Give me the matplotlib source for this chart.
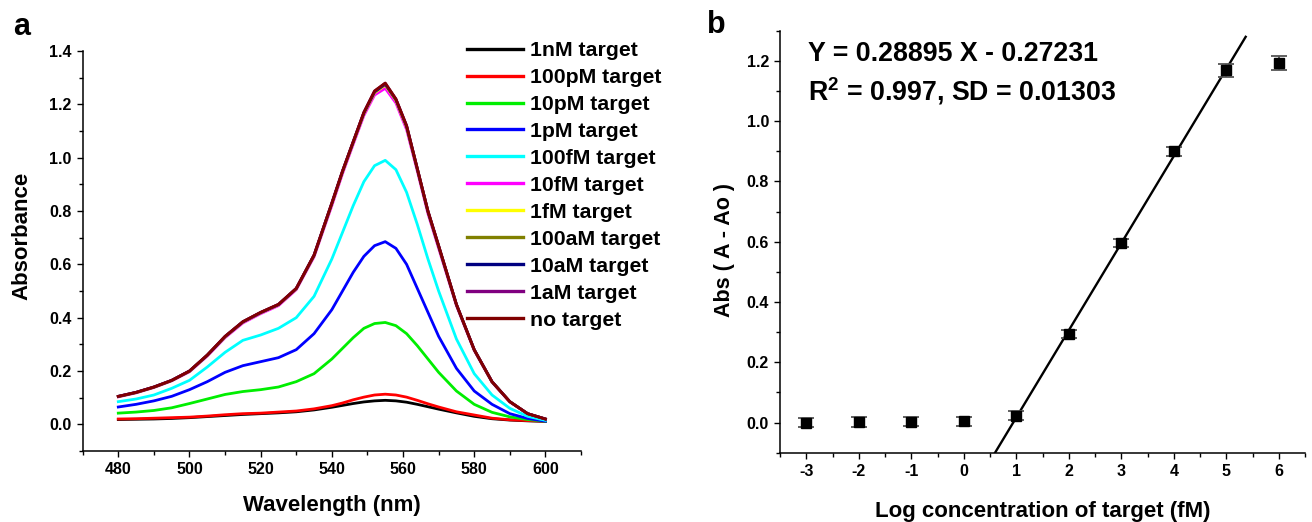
import numpy as np
import matplotlib
matplotlib.use('Agg')
import matplotlib.pyplot as plt
from matplotlib.ticker import MultipleLocator

plt.rcParams['font.family'] = ['Liberation Sans', 'DejaVu Sans']
plt.rcParams['font.weight'] = 'bold'
plt.rcParams['axes.labelweight'] = 'bold'
plt.rcParams['axes.unicode_minus'] = False
plt.rcParams['mathtext.fontset'] = 'custom'
plt.rcParams['mathtext.rm'] = 'Liberation Sans:bold'
plt.rcParams['mathtext.bf'] = 'Liberation Sans:bold'

# ---- panel a: absorbance spectra ----
wavelength = [480, 485, 490, 495, 500, 505, 510, 515, 520, 525, 530, 535, 540, 543, 546,
              549, 552, 555, 558, 561, 564, 567, 570, 575, 580, 585, 590, 595, 600]

abs_1nM = [0.018, 0.019, 0.020, 0.022, 0.025, 0.029, 0.033, 0.037, 0.040, 0.043, 0.047, 0.054, 0.064, 0.071, 0.078,
           0.084, 0.088, 0.090, 0.088, 0.083, 0.075, 0.066, 0.057, 0.043, 0.030, 0.021, 0.016, 0.013, 0.011]
abs_100pM = [0.020, 0.021, 0.023, 0.025, 0.027, 0.031, 0.036, 0.040, 0.042, 0.046, 0.050, 0.058, 0.070, 0.080, 0.092,
             0.102, 0.110, 0.113, 0.110, 0.102, 0.090, 0.077, 0.065, 0.047, 0.035, 0.023, 0.017, 0.014, 0.012]
abs_10pM = [0.042, 0.046, 0.052, 0.062, 0.078, 0.095, 0.112, 0.123, 0.130, 0.140, 0.160, 0.190, 0.245, 0.285, 0.325,
            0.360, 0.378, 0.382, 0.370, 0.340, 0.295, 0.245, 0.195, 0.125, 0.075, 0.045, 0.028, 0.018, 0.012]
abs_1pM = [0.065, 0.075, 0.088, 0.105, 0.130, 0.160, 0.195, 0.220, 0.235, 0.250, 0.280, 0.340, 0.430, 0.500, 0.570,
           0.630, 0.670, 0.685, 0.660, 0.600, 0.510, 0.420, 0.330, 0.210, 0.125, 0.075, 0.040, 0.022, 0.012]
abs_100fM = [0.085, 0.095, 0.110, 0.135, 0.165, 0.215, 0.270, 0.315, 0.335, 0.360, 0.400, 0.480, 0.620, 0.720, 0.820,
             0.910, 0.970, 0.990, 0.955, 0.870, 0.750, 0.620, 0.500, 0.320, 0.190, 0.110, 0.060, 0.030, 0.015]
abs_10fM = [0.103, 0.118, 0.138, 0.163, 0.197, 0.256, 0.325, 0.380, 0.415, 0.445, 0.505, 0.628, 0.820, 0.940, 1.050,
            1.158, 1.235, 1.260, 1.205, 1.105, 0.950, 0.790, 0.660, 0.445, 0.277, 0.158, 0.084, 0.040, 0.020]
abs_1fM = [0.104, 0.119, 0.139, 0.164, 0.199, 0.258, 0.328, 0.383, 0.418, 0.448, 0.508, 0.632, 0.826, 0.946, 1.056,
           1.165, 1.243, 1.272, 1.214, 1.114, 0.956, 0.796, 0.666, 0.448, 0.279, 0.159, 0.085, 0.040, 0.020]
abs_100aM = [0.104, 0.119, 0.139, 0.164, 0.199, 0.259, 0.329, 0.384, 0.419, 0.449, 0.509, 0.633, 0.828, 0.948, 1.058,
             1.167, 1.246, 1.275, 1.217, 1.116, 0.958, 0.798, 0.668, 0.449, 0.279, 0.159, 0.085, 0.040, 0.020]
abs_10aM = [0.105, 0.120, 0.140, 0.165, 0.200, 0.259, 0.329, 0.384, 0.419, 0.449, 0.509, 0.634, 0.829, 0.949, 1.059,
            1.168, 1.247, 1.276, 1.218, 1.118, 0.958, 0.798, 0.668, 0.449, 0.280, 0.160, 0.085, 0.040, 0.020]
abs_1aM = [0.105, 0.120, 0.140, 0.165, 0.200, 0.260, 0.330, 0.385, 0.420, 0.450, 0.510, 0.635, 0.830, 0.950, 1.060,
           1.170, 1.250, 1.279, 1.220, 1.120, 0.960, 0.800, 0.670, 0.450, 0.280, 0.160, 0.085, 0.040, 0.020]
abs_none = [0.105, 0.120, 0.140, 0.165, 0.200, 0.260, 0.330, 0.385, 0.420, 0.450, 0.510, 0.635, 0.830, 0.950, 1.060,
            1.170, 1.250, 1.280, 1.220, 1.120, 0.960, 0.800, 0.670, 0.450, 0.280, 0.160, 0.085, 0.040, 0.020]

spectra = [abs_1nM, abs_100pM, abs_10pM, abs_1pM, abs_100fM, abs_10fM,
           abs_1fM, abs_100aM, abs_10aM, abs_1aM, abs_none]
labels = ['1nM target', '100pM target', '10pM target', '1pM target', '100fM target', '10fM target',
          '1fM target', '100aM target', '10aM target', '1aM target', 'no target']
colors = ['#000000', '#ff0000', '#00ee00', '#0000ff', '#00ffff', '#ff00ff',
          '#ffff00', '#808000', '#000080', '#800080', '#800000']

# ---- panel b: calibration ----
log_conc = [-3, -2, -1, 0, 1, 2, 3, 4, 5, 6]
delta_abs = [0.000, 0.001, 0.003, 0.004, 0.023, 0.294, 0.595, 0.900, 1.168, 1.192]
delta_err = [0.016, 0.016, 0.014, 0.014, 0.015, 0.014, 0.014, 0.015, 0.021, 0.024]
slope = 0.28895
intercept = -0.27231

fig = plt.figure(figsize=(13.12, 5.22), dpi=100)
W, H = 1312, 522

def axes_px(x0, x1, y0, y1):
    return fig.add_axes([x0 / W, 1 - y1 / H, (x1 - x0) / W, (y1 - y0) / H])

ax1 = axes_px(82.7, 581, 51, 451)
ax2 = axes_px(780, 1305, 30.6, 452.7)

for ax in (ax1, ax2):
    ax.spines['top'].set_visible(False)
    ax.spines['right'].set_visible(False)
    for s in ('left', 'bottom'):
        ax.spines[s].set_linewidth(1.1)
    ax.tick_params(which='both', direction='out', width=1.0, labelsize=11.5)
    ax.tick_params(which='major', length=4.5)
    ax.tick_params(which='minor', length=2.8)

for y, c, lab in zip(spectra, colors, labels):
    ax1.plot(wavelength, y, color=c, lw=2.0, label=lab)

ax1.set_xlim(470, 610)
ax1.set_ylim(-0.1, 1.4)
ax1.xaxis.set_minor_locator(MultipleLocator(10))
ax1.yaxis.set_minor_locator(MultipleLocator(0.1))
ax1.set_xticks(range(480, 601, 20))
ax1.set_yticks(np.arange(0, 1.41, 0.2))
ax1.set_xlabel('Wavelength (nm)', fontsize=16)
ax1.set_ylabel('Absorbance', fontsize=16)
ax1.xaxis.set_label_coords(0.5, -0.11)
ax1.yaxis.set_label_coords(-0.1, 0.5375)

leg = ax1.legend(loc='upper left', bbox_to_anchor=(467 / W, 1 - 41 / H), bbox_transform=fig.transFigure,
                 frameon=False, fontsize=15.3, handlelength=2.65, handletextpad=0.33,
                 labelspacing=0.375, borderpad=0, borderaxespad=0)
for h in leg.get_lines():
    h.set_linewidth(2.4)

ax2.errorbar(log_conc, delta_abs, yerr=delta_err, fmt='s', color='black', ms=6.5,
             ecolor='#555555', elinewidth=1.3, capsize=5.5, capthick=1.3, zorder=3)
fit_x = np.array([0.5, 5.37])
ax2.plot(fit_x, slope * fit_x + intercept, color='black', lw=1.7, zorder=2)

ax2.set_xlim(-3.5, 6.5)
ax2.set_ylim(-0.1, 1.3)
ax2.set_xticks(range(-3, 7))
ax2.xaxis.set_minor_locator(MultipleLocator(0.5))
ax2.set_yticks(np.arange(0, 1.21, 0.2))
ax2.yaxis.set_minor_locator(MultipleLocator(0.1))
ax2.set_xlabel('Log concentration of target (fM)', fontsize=16)
ax2.set_ylabel('Abs ( A - Ao )', fontsize=15.5)
ax2.xaxis.set_label_coords(0.5, -0.114)
ax2.yaxis.set_label_coords(-0.0857, 0.48)

fig.text(808 / W, 1 - 61 / H, 'Y = 0.28895 X - 0.27231', fontsize=19.3, fontweight='bold', va='baseline')
fig.text(808 / W, 1 - 100 / H, r'R$^{\mathbf{2}}$ = 0.997, SD = 0.01303', fontsize=19.3,
         fontweight='bold', va='baseline')

fig.text(13 / W, 1 - 35 / H, 'a', fontsize=22, fontweight='bold', va='baseline')
fig.text(707 / W, 1 - 33 / H, 'b', fontsize=22, fontweight='bold', va='baseline')

fig.savefig('out.png', dpi=100)
